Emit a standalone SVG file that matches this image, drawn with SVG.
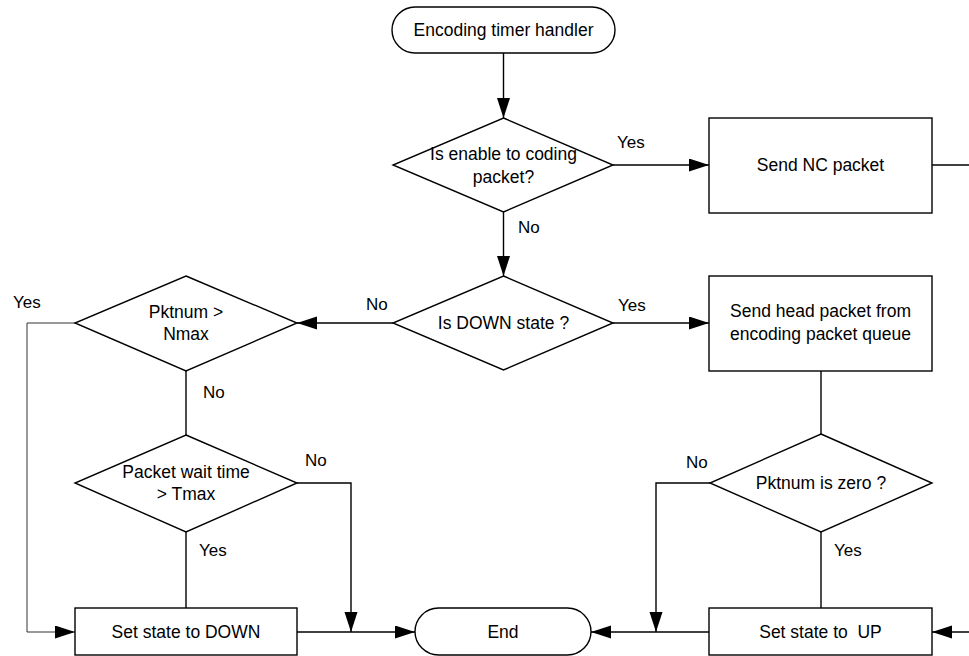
<svg xmlns="http://www.w3.org/2000/svg" width="969" height="656" viewBox="0 0 969 656">
<style>
  .shape { fill: #ffffff; stroke: #000000; stroke-width: 1.4; }
  .t { font-family: "Liberation Sans", Arial, sans-serif; font-size: 17.5px; fill: #000000; text-anchor: middle; }
  .lbl { font-family: "Liberation Sans", Arial, sans-serif; font-size: 17px; fill: #000000; }
  .c { fill: none; stroke: #000000; stroke-width: 1.4; }
  .thin { fill: none; stroke: #333333; stroke-width: 1; }
</style>
<defs>
  <marker id="arr" markerUnits="userSpaceOnUse" markerWidth="20" markerHeight="14" refX="20" refY="6.5" orient="auto">
    <path d="M0,0 L20,6.5 L0,13 z" fill="#000000"/>
  </marker>
</defs>

<g id="connectors">
  <line class="c" x1="503.5" y1="53" x2="503.5" y2="118" marker-end="url(#arr)"/>
  <line class="c" x1="613" y1="165" x2="709" y2="165" marker-end="url(#arr)"/>
  <line class="c" x1="932" y1="165" x2="969" y2="165"/>
  <line class="c" x1="503.5" y1="212" x2="503.5" y2="276" marker-end="url(#arr)"/>
  <line class="c" x1="613" y1="323" x2="709" y2="323" marker-end="url(#arr)"/>
  <line class="c" x1="393" y1="323" x2="297" y2="323" marker-end="url(#arr)"/>
  <polyline class="thin" points="75,323 27,323 27,632 75,632" marker-end="url(#arr)"/>
  <line class="c" x1="186" y1="371" x2="186" y2="435"/>
  <polyline class="c" points="297,483 351,483 351,632" marker-end="url(#arr)"/>
  <line class="c" x1="186" y1="532" x2="186" y2="608"/>
  <line class="c" x1="297" y1="632" x2="415" y2="632" marker-end="url(#arr)"/>
  <line class="c" x1="821" y1="371" x2="821" y2="434"/>
  <polyline class="c" points="710,483 656,483 656,632" marker-end="url(#arr)"/>
  <line class="c" x1="821" y1="532" x2="821" y2="608"/>
  <line class="c" x1="709" y1="632" x2="591" y2="632" marker-end="url(#arr)"/>
  <line class="c" x1="969" y1="632" x2="932" y2="632" marker-end="url(#arr)"/>

  <text class="lbl" x="617" y="148">Yes</text>
  <text class="lbl" x="518" y="233">No</text>
  <text class="lbl" x="618" y="311">Yes</text>
  <text class="lbl" x="366" y="310">No</text>
  <text class="lbl" x="13" y="308">Yes</text>
  <text class="lbl" x="203" y="398">No</text>
  <text class="lbl" x="305" y="466">No</text>
  <text class="lbl" x="199" y="556">Yes</text>
  <text class="lbl" x="686" y="468">No</text>
  <text class="lbl" x="834" y="556">Yes</text>
</g>

<g id="start">
  <rect class="shape" x="392" y="7" width="223" height="46" rx="23" ry="23"/>
  <text class="t" x="503.5" y="36">Encoding timer handler</text>
</g>

<g id="d-enable">
  <polygon class="shape" points="503.5,118 613,165 503.5,212 393,165"/>
  <text class="t" x="503.5" y="160">Is enable to coding</text>
  <text class="t" x="503.5" y="183">packet?</text>
</g>

<g id="send-nc">
  <rect class="shape" x="709" y="118" width="223" height="95"/>
  <text class="t" x="820.5" y="171">Send NC packet</text>
</g>

<g id="d-down">
  <polygon class="shape" points="503.5,276 613,323 503.5,370 393,323"/>
  <text class="t" x="503.5" y="329">Is DOWN state ?</text>
</g>

<g id="send-head">
  <rect class="shape" x="709" y="276" width="223" height="95"/>
  <text class="t" x="820.5" y="317">Send head packet from</text>
  <text class="t" x="820.5" y="340">encoding packet queue</text>
</g>

<g id="d-nmax">
  <polygon class="shape" points="186,276 297,323 186,371 75,323"/>
  <text class="t" x="186" y="318">Pktnum &gt;</text>
  <text class="t" x="186" y="340">Nmax</text>
</g>

<g id="d-tmax">
  <polygon class="shape" points="186,435 297,483 186,532 75,483"/>
  <text class="t" x="186" y="478">Packet wait time</text>
  <text class="t" x="186" y="500">&gt; Tmax</text>
</g>

<g id="d-zero">
  <polygon class="shape" points="821,434 932,483 821,532 710,483"/>
  <text class="t" x="821" y="489">Pktnum is zero ?</text>
</g>

<g id="set-down">
  <rect class="shape" x="75" y="608" width="222" height="47"/>
  <text class="t" x="186" y="638">Set state to DOWN</text>
</g>

<g id="end">
  <rect class="shape" x="415" y="608" width="176" height="47" rx="23.5" ry="23.5"/>
  <text class="t" x="503" y="638">End</text>
</g>

<g id="set-up">
  <rect class="shape" x="709" y="608" width="223" height="47"/>
  <text class="t" x="820.5" y="638" xml:space="preserve">Set state to  UP</text>
</g>
</svg>
